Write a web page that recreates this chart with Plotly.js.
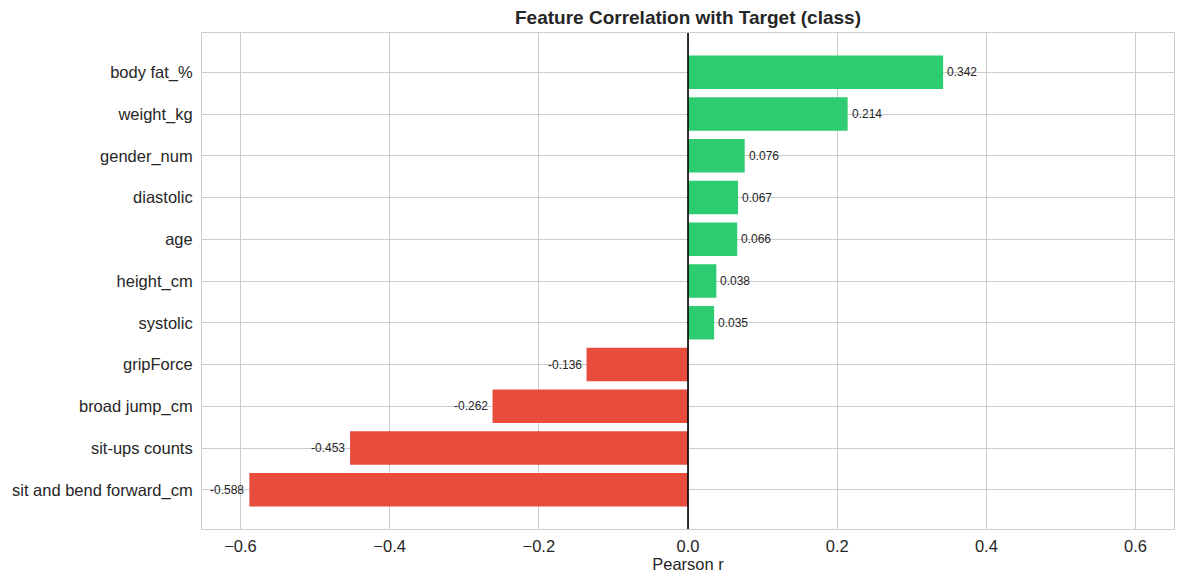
<!DOCTYPE html>
<html><head><meta charset="utf-8">
<script src="https://cdn.plot.ly/plotly-3.0.1.min.js"></script>
<style>body{margin:0;background:#fff}#chart{width:1183px;height:584px}</style>
</head><body><div id="chart"></div>
<script>
const features = ["body fat_%","weight_kg","gender_num","diastolic","age","height_cm","systolic","gripForce","broad jump_cm","sit-ups counts","sit and bend forward_cm"];
const correlations = [0.342,0.214,0.076,0.067,0.066,0.038,0.035,-0.136,-0.262,-0.453,-0.588];
const xTicks = [-0.6,-0.4,-0.2,0.0,0.2,0.4,0.6];
const xTickLabels = ["\u22120.6","\u22120.4","\u22120.2","0.0","0.2","0.4","0.6"];

const colors = correlations.map(v => v >= 0 ? "#2ecc71" : "#e74c3c");
const yIdx = features.map((_, i) => i);

const annotations = correlations.map((v, i) => ({
  x: v, y: i, xref: "x", yref: "y",
  text: v.toFixed(3),
  showarrow: false,
  xanchor: v >= 0 ? "left" : "right",
  xshift: v >= 0 ? 2 : -3,
  font: {family: "Liberation Sans, Arial, sans-serif", size: 12, color: "#262626"}
}));

const trace = {
  type: "bar", orientation: "h",
  x: correlations, y: yIdx,
  width: 0.8,
  marker: {color: colors, line: {width: 0}},
  hoverinfo: "skip"
};

const layout = {
  width: 1183, height: 584,
  margin: {l: 202, r: 9, t: 33, b: 55},
  paper_bgcolor: "#fff", plot_bgcolor: "#fff",
  font: {family: "Liberation Sans, Arial, sans-serif", color: "#262626"},
  title: {text: "<b>Feature Correlation with Target (class)</b>", x: 0.5, xref: "paper", xanchor: "center", y: 0.995, yref: "container", yanchor: "top", pad: {t: 8}, font: {size: 19, color: "#262626"}},
  xaxis: {
    range: [-0.6515, 0.6515], tickvals: xTicks, ticktext: xTickLabels,
    showgrid: true, gridcolor: "#cccccc", gridwidth: 1,
    zeroline: false, showline: true, linecolor: "#cccccc", mirror: true,
    ticks: "", ticklabelstandoff: 2,
    tickfont: {size: 16.5, color: "#262626"},
    title: {text: "Pearson r", font: {size: 16.5, color: "#262626"}, standoff: 3}
  },
  yaxis: {
    range: [10.94, -0.94], tickvals: yIdx, ticktext: features,
    showgrid: true, gridcolor: "#cccccc", gridwidth: 1,
    zeroline: false, showline: true, linecolor: "#cccccc", mirror: true,
    ticks: "", ticklabelstandoff: 5,
    tickfont: {size: 16.5, color: "#262626"}
  },
  shapes: [{type: "line", xref: "x", yref: "paper", x0: 0, x1: 0, y0: 0, y1: 1, line: {color: "#000", width: 1.6}, layer: "above"}],
  annotations: annotations,
  showlegend: false
};

Plotly.newPlot("chart", [trace], layout, {displayModeBar: false, staticPlot: true});
</script></body></html>
